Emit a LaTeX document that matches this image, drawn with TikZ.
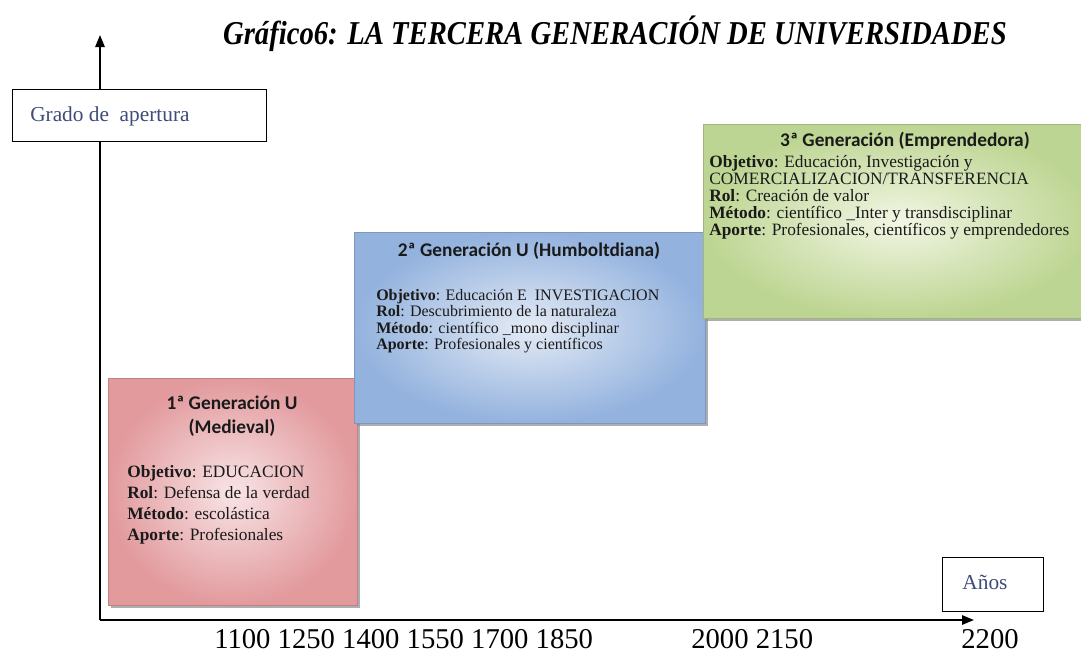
\documentclass[tikz,border=0pt]{standalone}
\usepackage{fontspec}
\setmainfont{Liberation Serif}
\newfontfamily\hdrfont{Carlito}
\newfontfamily\titlefont[FakeStretch=0.86]{Liberation Serif}
\usetikzlibrary{arrows.meta,shadows}
\definecolor{gradotext}{HTML}{3F4C7A}
\definecolor{redout}{HTML}{E29A9D}
\definecolor{redin}{HTML}{F8E4E6}
\definecolor{blueout}{HTML}{93B2DE}
\definecolor{bluein}{HTML}{E4EBF5}
\definecolor{greenout}{HTML}{BDD592}
\definecolor{greenin}{HTML}{F2F6E4}
\definecolor{inktext}{HTML}{1A1A1A}
\begin{document}
\begin{tikzpicture}[x=0.75pt,y=-0.75pt,
  axis/.style={line width=1.4pt, line cap=butt, -{Triangle[length=9pt,width=7pt]}},
  labelbox/.style={draw=black, line width=1pt, fill=white, inner sep=0pt, anchor=north west},
  genbox/.style={anchor=north west, inner sep=0pt, draw=#1out!85!black, line width=0.4pt,
     inner color=#1in, outer color=#1out,
     drop shadow={shadow xshift=2.2pt, shadow yshift=-2.2pt, fill=black!45, opacity=0.7}},
  hdr/.style={font=\hdrfont\bfseries\fontsize{14.5}{17}\selectfont, text=inktext, inner sep=0pt, anchor=base},
  bodyline/.style={font=\fontsize{#1}{#1}\selectfont, text=inktext, inner sep=0pt, anchor=base west},
  axlabel/.style={font=\fontsize{16}{18}\selectfont, text=gradotext, inner sep=0pt},
  yearlabel/.style={font=\fontsize{21.5}{24}\selectfont, text=black, inner sep=0pt, anchor=base west},
]
\useasboundingbox (0,0) rectangle (1081,654);
\clip (0,0) rectangle (1081,654);

% title
\node[font=\titlefont\bfseries\itshape\fontsize{25}{29}\selectfont, inner sep=0pt, anchor=base] (title) at (615,44)
  {Gráfico6: LA TERCERA GENERACIÓN DE UNIVERSIDADES};

% axes
\coordinate (O) at (100,620);
\coordinate (Ytip) at (100,35);
\coordinate (Xtip) at (974,620);
\draw[axis] (O) -- (Ytip);
\draw[axis] (O) -- (Xtip);

% axis label boxes
\node[labelbox, minimum width=190.5pt, minimum height=39pt] (grado) at (12,89) {};
\node[axlabel, anchor=west] (gradotxt) at (30,116) {Grado de\ \ apertura};
\node[labelbox, minimum width=75.75pt, minimum height=40.5pt] (anos) at (942,557) {};
\node[axlabel] (anostxt) at (985,582) {Años};

% generation boxes
\node[genbox=red, minimum width=186.75pt, minimum height=170.25pt] (red) at (108,378) {};
\node[genbox=blue, minimum width=263.25pt, minimum height=143.25pt] (blue) at (354,232) {};
\node[genbox=green, minimum width=292pt, minimum height=145.5pt] (green) at (703,124) {};

% red box text
\node[hdr] (rh1) at (232,409) {1ª Generación U};
\node[hdr] (rh2) at (232,433) {(Medieval)};
\node[bodyline=13] (r1) at (127,477) {\textbf{Objetivo}: EDUCACION};
\node[bodyline=13] (r2) at (127,498) {\textbf{Rol}: Defensa de la verdad};
\node[bodyline=13] (r3) at (127,519) {\textbf{Método}: escolástica};
\node[bodyline=13] (r4) at (127,540) {\textbf{Aporte}: Profesionales};

% blue box text
\node[hdr] (bh) at (529,256) {2ª Generación U (Humboltdiana)};
\node[bodyline=12] (b1) at (376,300) {\textbf{Objetivo}: Educación E\ \ INVESTIGACION};
\node[bodyline=12] (b2) at (376,316.5) {\textbf{Rol}: Descubrimiento de la naturaleza};
\node[bodyline=12] (b3) at (376,333) {\textbf{Método}: científico \_mono disciplinar};
\node[bodyline=12] (b4) at (376,349.5) {\textbf{Aporte}: Profesionales y científicos};

% green box text
\node[hdr] (gh) at (905,146) {3ª Generación (Emprendedora)};
\node[bodyline=13] (g1) at (709,167) {\textbf{Objetivo}: Educación, Investigación y};
\node[bodyline=13] (g2) at (709,184) {COMERCIALIZACION/TRANSFERENCIA};
\node[bodyline=13] (g3) at (709,201) {\textbf{Rol}: Creación de valor};
\node[bodyline=13] (g4) at (709,218) {\textbf{Método}: científico \_Inter y transdisciplinar};
\node[bodyline=13] (g5) at (709,235) {\textbf{Aporte}: Profesionales, científicos y emprendedores};

% years
\node[yearlabel] (y1) at (214,648) {1100 1250 1400 1550 1700 1850};
\node[yearlabel] (y2) at (691,648) {2000 2150};
\node[yearlabel, anchor=base] (y3) at (990,648) {2200};
\end{tikzpicture}
\end{document}
